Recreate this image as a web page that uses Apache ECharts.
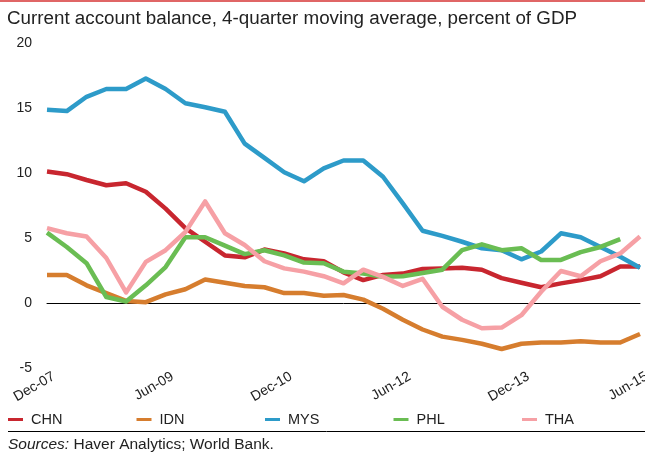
<!DOCTYPE html>
<html>
<head>
<meta charset="utf-8">
<script src="https://cdn.jsdelivr.net/npm/echarts@6/dist/echarts.min.js"></script>
<style>
html,body{margin:0;padding:0;background:#fff;}
#c{width:645px;height:454px;}
</style>
</head>
<body>
<div id="c"></div>
<script>
const quarters = ["Dec-07","Mar-08","Jun-08","Sep-08","Dec-08","Mar-09","Jun-09","Sep-09","Dec-09","Mar-10","Jun-10","Sep-10","Dec-10","Mar-11","Jun-11","Sep-11","Dec-11","Mar-12","Jun-12","Sep-12","Dec-12","Mar-13","Jun-13","Sep-13","Dec-13","Mar-14","Jun-14","Sep-14","Dec-14","Mar-15","Jun-15"];
const CHN = [10.15,9.95,9.5,9.1,9.25,8.6,7.3,5.8,4.75,3.7,3.55,4.15,3.85,3.4,3.25,2.4,1.8,2.2,2.3,2.65,2.7,2.75,2.6,1.95,1.6,1.25,1.55,1.8,2.1,2.85,2.85];
const IDN = [2.2,2.2,1.4,0.8,0.2,0.1,0.7,1.1,1.85,1.6,1.35,1.25,0.8,0.8,0.6,0.65,0.3,-0.4,-1.25,-2.0,-2.55,-2.8,-3.1,-3.5,-3.1,-3.0,-3.0,-2.9,-3.0,-3.0,-2.35];
const MYS = [14.9,14.8,15.9,16.5,16.5,17.3,16.5,15.4,15.1,14.75,12.3,11.2,10.1,9.4,10.4,11.0,11.0,9.75,7.7,5.6,5.2,4.75,4.25,4.1,3.4,4.0,5.4,5.1,4.35,3.6,2.75];
const PHL = [5.45,4.35,3.1,0.5,0.15,1.4,2.8,5.1,5.1,4.45,3.8,4.1,3.7,3.15,3.1,2.45,2.3,2.05,2.1,2.35,2.6,4.1,4.55,4.1,4.25,3.35,3.35,3.95,4.35,4.95,null];
const THA = [5.8,5.4,5.15,3.5,0.85,3.2,4.1,5.5,7.85,5.4,4.5,3.25,2.7,2.45,2.1,1.55,2.6,2.05,1.35,1.9,-0.25,-1.25,-1.9,-1.85,-0.9,0.9,2.5,2.1,3.25,3.85,5.15];
const yTicks = [-5,0,5,10,15,20];

const names = ["CHN","IDN","MYS","PHL","THA"];
const colors = ["#c8262f","#d67d2e","#2d9bc9","#6abd53","#f6a0a5"];
const seriesData = [CHN, IDN, MYS, PHL, THA];
const sans = "'Liberation Sans',Arial,sans-serif";

const chart = echarts.init(document.getElementById('c'), null, {renderer:'canvas'});
chart.setOption({
  animation:false,
  backgroundColor:'#fff',
  title:{text:'Current account balance, 4-quarter moving average, percent of GDP',left:7,top:9,padding:0,
    textStyle:{fontFamily:sans,fontWeight:'normal',fontSize:18.8,color:'#222'}},
  grid:{left:47,right:5,top:43.5,bottom:85.5,containLabel:false,outerBoundsMode:'none'},
  xAxis:{type:'category',data:quarters,boundaryGap:false,
    axisLine:{show:true,onZero:true,lineStyle:{color:'#000',width:1}},
    axisTick:{show:false},splitLine:{show:false},
    axisLabel:{interval:5,rotate:30,margin:11,padding:[0,-8,0,0],fontFamily:sans,fontSize:14,color:'#222'}},
  yAxis:{type:'value',min:yTicks[0],max:yTicks[yTicks.length-1],interval:5,
    axisLine:{show:false},axisTick:{show:false},splitLine:{show:false},
    axisLabel:{margin:15,fontFamily:sans,fontSize:14,color:'#222'}},
  legend: names.map((n,i)=>({left:8+128.5*i,top:412,padding:0,itemWidth:15,itemHeight:3,icon:'rect',
    textStyle:{fontFamily:sans,fontSize:14.5,color:'#222',padding:[0,0,0,3]},
    data:[n]})),
  series: names.map((n,i)=>({name:n,type:'line',data:seriesData[i],showSymbol:false,symbol:'none',
    lineStyle:{width:4.5,color:colors[i],join:'round'},itemStyle:{color:colors[i]},z:2})),
  graphic:[
    {type:'rect',shape:{x:0,y:0,width:645,height:2},style:{fill:'#e06666'}},
    {type:'line',shape:{x1:8,y1:431.5,x2:645,y2:431.5},style:{stroke:'#000',lineWidth:1}},
    {type:'text',left:8,top:437,style:{text:'{i|Sources:} Haver Analytics; World Bank.',
      rich:{i:{fontStyle:'italic',fontFamily:sans,fontSize:15.5,fill:'#222'}},
      fontFamily:sans,fontSize:15.5,fill:'#222'}}
  ]
});
</script>
</body>
</html>
